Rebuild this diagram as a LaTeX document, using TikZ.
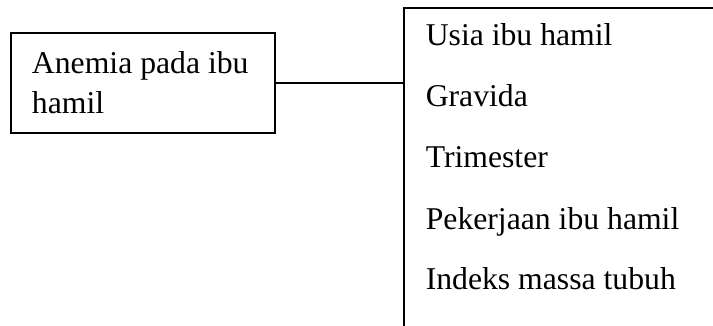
\documentclass[tikz,border=0pt]{standalone}
\usepackage{fontspec}
\setmainfont{Liberation Serif}
\usetikzlibrary{positioning}
\tikzset{
	boxtext/.style={font=\fontsize{15.85}{20}\selectfont}
}
\tikzset{
	itemtext/.style={boxtext, anchor=base west, inner sep=0pt}
}

\begin{document}
\begin{tikzpicture}[x=0.5pt, y=-0.5pt, line width=0.8pt]
      \useasboundingbox (0,0) rectangle (713,326);
      \node[draw, boxtext, minimum width=132pt, minimum height=50pt, text width=111pt, inner xsep=10.5pt, align=flush left] (anemia) at (143,83) {Anemia pada ibu\\hamil};
      % open box on the right, it runs off the page
      \coordinate (listtop) at (404,8);
      \coordinate (listbot) at (404,330);
      \draw (listbot) -- (listtop) -- (717,8);
      \node[itemtext] (usia) at (425,46) {Usia ibu hamil};
      \node[itemtext] (gravida) at (425,107) {Gravida};
      \node[itemtext] (trimester) at (425,168) {Trimester};
      \node[itemtext] (pekerjaan) at (425,229) {Pekerjaan ibu hamil};
      \node[itemtext] (imt) at (425,290) {Indeks massa tubuh};
      % join the two boxes
      \draw (anemia.east) -- (anemia.east -| listtop);
    \end{tikzpicture}
\end{document}
